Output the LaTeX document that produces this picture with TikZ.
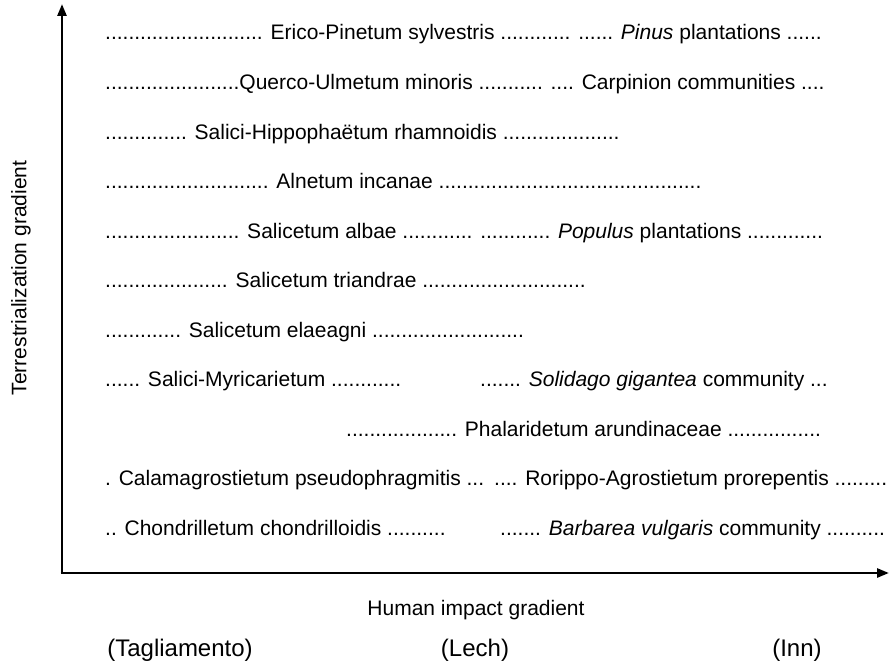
\documentclass[tikz,border=0pt]{standalone}
\usepackage{fontspec}
\setmainfont{Liberation Sans}
\usetikzlibrary{arrows.meta}
\begin{document}
\begin{tikzpicture}[x=1pt,y=-1pt,
  row/.style={anchor=base west,inner sep=0pt,font=\fontsize{21}{25}\selectfont},
  axlabel/.style={inner sep=0pt,font=\fontsize{21}{25}\selectfont},
  river/.style={inner sep=0pt,font=\fontsize{24}{28}\selectfont},
  axis/.style={line width=2.6pt,-{Triangle[length=12pt,width=9pt]}}]
\useasboundingbox (0,0) rectangle (889,669);
\coordinate (origin) at (62,573);
\coordinate (ytip) at (62,4);
\coordinate (xtip) at (889,573);
\draw[axis] (origin) -- (ytip);
\draw[axis] ([xshift=-1.3pt]origin) -- (xtip);
\node[row] (r1) at (105,40) {........................... Erico-Pinetum sylvestris ............ ...... \textit{Pinus} plantations ......};
\node[row] (r2) at (105,89.5) {.......................Querco-Ulmetum minoris ........... .... Carpinion communities ....};
\node[row] (r3) at (105,139) {.............. Salici-Hippophaëtum rhamnoidis ....................};
\node[row] (r4) at (105,188.5) {............................ Alnetum incanae .............................................};
\node[row] (r5) at (105,238) {....................... Salicetum albae ............ ............ \textit{Populus} plantations .............};
\node[row] (r6) at (105,287.5) {..................... Salicetum triandrae ............................};
\node[row] (r7) at (105,337) {............. Salicetum elaeagni ..........................};
\node[row] (r8a) at (105,386.5) {...... Salici-Myricarietum ............};
\node[row] (r8b) at (480,386.5) {....... \textit{Solidago gigantea} community ...};
\node[row] (r9) at (346,436) {................... Phalaridetum arundinaceae ................};
\node[row] (r10a) at (105,485.5) {. Calamagrostietum pseudophragmitis ...};
\node[row] (r10b) at (494,485.5) {.... Rorippo-Agrostietum prorepentis .........};
\node[row] (r11a) at (105,535) {.. Chondrilletum chondrilloidis ..........};
\node[row] (r11b) at (500,535) {....... \textit{Barbarea vulgaris} community ..........};
\node[axlabel,rotate=90] (ylab) at (21,278) {Terrestrialization gradient};
\node[axlabel] (xlab) at (476,610) {Human impact gradient};
\node[river] (tag) at (180,650) {(Tagliamento)};
\node[river] (lech) at (475,650) {(Lech)};
\node[river] (inn) at (797,650) {(Inn)};
\end{tikzpicture}
\end{document}
